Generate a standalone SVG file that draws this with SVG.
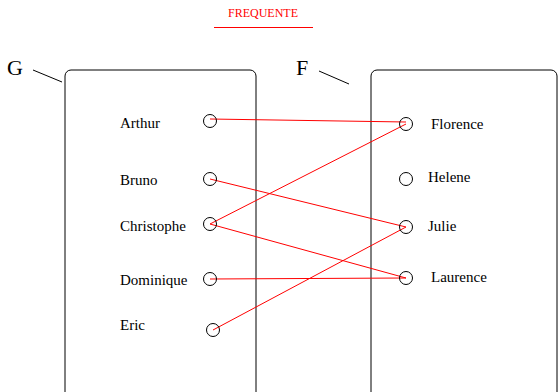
<svg xmlns="http://www.w3.org/2000/svg" width="558" height="392" viewBox="0 0 558 392">
<style>
text{font-family:'Liberation Serif','Times New Roman',serif}
.t{font-size:15px;fill:#000}
.big{font-size:22px;fill:#000}
.box{fill:none;stroke:#000;stroke-width:1}
.c{fill:none;stroke:#000;stroke-width:1}
.e{stroke:#f00;stroke-width:1;fill:none}
</style>
<rect width="558" height="392" fill="#fff"/>
<g id="title">
<text x="263" y="17" text-anchor="middle" font-size="12" fill="#f00">FREQUENTE</text>
<line x1="214" y1="27.5" x2="313" y2="27.5" stroke="#f00" stroke-width="1.2"/>
</g>
<g id="setG">
<text class="big" x="7" y="75">G</text>
<line x1="33" y1="70" x2="62" y2="82" stroke="#000"/>
<rect class="box" x="65" y="70" width="191" height="330" rx="6"/>
</g>
<g id="setF">
<text class="big" x="296" y="75">F</text>
<line x1="319" y1="71" x2="349" y2="84" stroke="#000"/>
<rect class="box" x="371" y="70" width="186" height="330" rx="6"/>
</g>
<g id="connectors">
<line class="e" x1="210" y1="119" x2="406" y2="122"/>
<line class="e" x1="210" y1="179" x2="406" y2="227"/>
<line class="e" x1="210" y1="224" x2="406" y2="124"/>
<line class="e" x1="210" y1="224" x2="406" y2="278"/>
<line class="e" x1="210" y1="279" x2="406" y2="278"/>
<line class="e" x1="213" y1="330" x2="406" y2="227"/>
</g>
<g id="arthur"><circle class="c" cx="210" cy="121" r="6.5"/><text class="t" x="120" y="128">Arthur</text></g>
<g id="bruno"><circle class="c" cx="210" cy="179" r="6.5"/><text class="t" x="120" y="185">Bruno</text></g>
<g id="christophe"><circle class="c" cx="210" cy="224" r="6.5"/><text class="t" x="120" y="231">Christophe</text></g>
<g id="dominique"><circle class="c" cx="210" cy="279" r="6.5"/><text class="t" x="120" y="285">Dominique</text></g>
<g id="eric"><circle class="c" cx="213" cy="330" r="6.5"/><text class="t" x="120" y="330">Eric</text></g>
<g id="florence"><circle class="c" cx="406" cy="124" r="6.5"/><text class="t" x="431" y="129">Florence</text></g>
<g id="helene"><circle class="c" cx="406" cy="179" r="6.5"/><text class="t" x="428" y="182">Helene</text></g>
<g id="julie"><circle class="c" cx="406" cy="227" r="6.5"/><text class="t" x="428" y="231">Julie</text></g>
<g id="laurence"><circle class="c" cx="406" cy="278" r="6.5"/><text class="t" x="431" y="282">Laurence</text></g>
</svg>
